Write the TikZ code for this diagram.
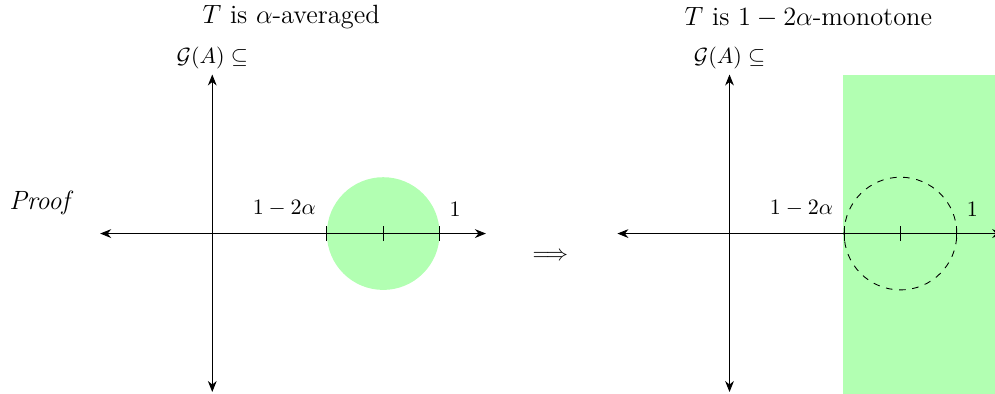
\documentclass[tikz,border=0pt]{standalone}
\usepackage{amsmath, amssymb}
\usepackage{tikz}
\usetikzlibrary{arrows.meta, positioning}

\begin{document}
\begin{tikzpicture}[axisline/.style={{Stealth[length=5pt,width=4pt]}-{Stealth[length=5pt,width=4pt]}}]
  \useasboundingbox (0,0) rectangle (15.89,6.29);

  \fill[green!30] (6.12,2.56) circle (0.9);
  \fill[green!30] (13.47,0) rectangle (16.2,5.10);

  \coordinate (lw) at (1.60,2.56);
  \coordinate (le) at (7.76,2.56);
  \coordinate (ls) at (3.39,0.03);
  \coordinate (ln) at (3.39,5.10);
  \coordinate (rw) at (9.86,2.56);
  \coordinate (re) at (16.02,2.56);
  \coordinate (rs) at (11.65,0.03);
  \coordinate (rn) at (11.65,5.10);

  \draw[axisline] (lw) -- (le);
  \draw[axisline] (ls) -- (ln);
  \draw[axisline] (rw) -- (re);
  \draw[axisline] (rs) -- (rn);

  \draw[dashed] (14.38,2.56) circle (0.9);

  \foreach \xx in {5.22,6.12,7.02,13.48,14.38,15.28} {
    \draw (\xx,2.44) -- (\xx,2.68);
  }

  \node (titleL) at (4.65,6.01) {\large $T$ is $\alpha$-averaged};
  \node (titleR) at (12.91,6.01) {\large $T$ is $1-2\alpha$-monotone};
  \node (graphL) at (3.39,5.37) {$\mathcal{G}(A) \subseteq$};
  \node (graphR) at (11.65,5.37) {$\mathcal{G}(A) \subseteq$};
  \node (lowL) at (4.54,2.96) {$1-2\alpha$};
  \node (oneL) at (7.27,2.94) {$1$};
  \node (lowR) at (12.80,2.96) {$1-2\alpha$};
  \node (oneR) at (15.53,2.94) {$1$};
  \node (proof) at (0.66,3.05) {\large\textit{Proof}};
  \node (implies) at (8.79,2.20) {$\Longrightarrow$};
\end{tikzpicture}
\end{document}
